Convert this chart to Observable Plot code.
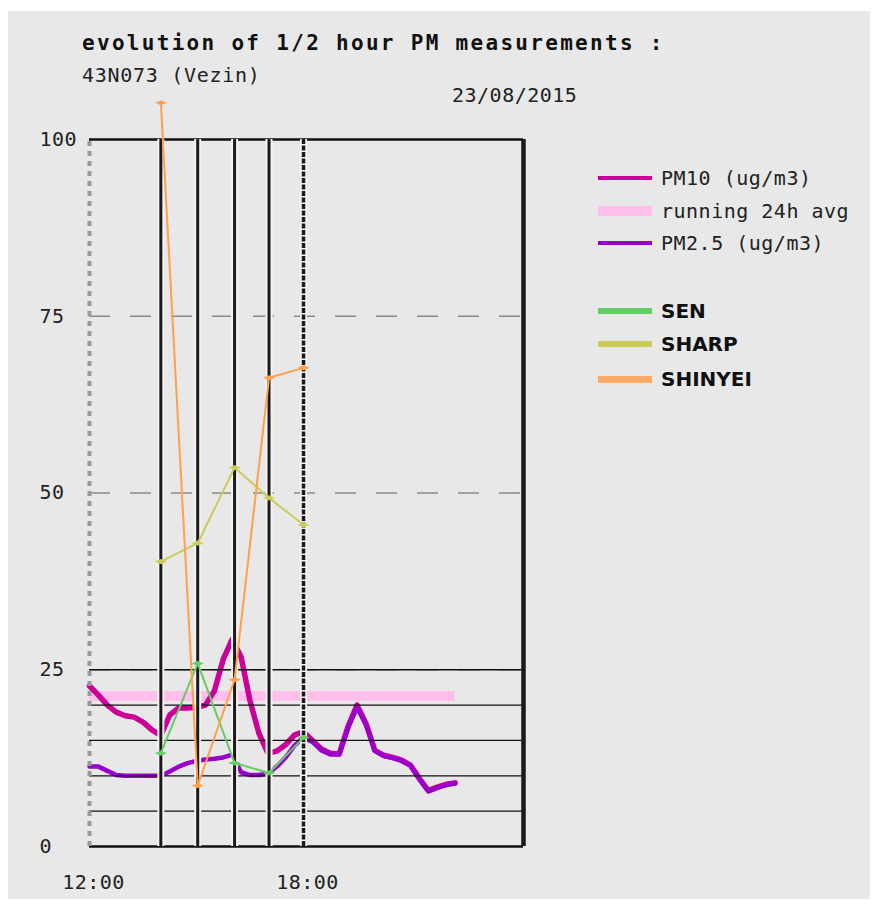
<!DOCTYPE html>
<html>
<head>
<meta charset="utf-8">
<script src="https://cdn.jsdelivr.net/npm/d3@7"></script>
<script src="https://cdn.jsdelivr.net/npm/@observablehq/plot@0.6"></script>
<style>
html,body{margin:0;padding:0;background:#fff;}
#wrap{position:relative;width:872px;height:909px;overflow:hidden;}
#panel{position:absolute;left:8px;top:11px;width:862px;height:888px;background:#e8e8e8;}
.t{position:absolute;white-space:nowrap;font-family:"DejaVu Sans Mono",monospace;color:#222;line-height:1;}
#title{left:82px;top:33px;font-size:21px;font-weight:bold;letter-spacing:2.3px;color:#111;}
#sub{left:82px;top:65px;font-size:20px;letter-spacing:0.7px;}
#date{left:452px;top:85px;font-size:20px;letter-spacing:0.5px;}
#chart{position:absolute;left:0;top:0;}
.leg{position:absolute;left:598px;height:20px;display:flex;align-items:center;white-space:nowrap;}
.sw{display:inline-block;width:54px;margin-right:9px;}
.lt{font-family:"DejaVu Sans Mono",monospace;font-size:20px;letter-spacing:0.5px;color:#222;}
.ls{font-family:"DejaVu Sans",sans-serif;font-size:20px;font-weight:bold;color:#111;}
</style>
</head>
<body>
<div id="wrap">
  <div id="panel"></div>
  <div class="t" id="title"></div>
  <div class="t" id="sub"></div>
  <div class="t" id="date"></div>
  <div id="chart"></div>
  <div id="legend"></div>
</div>
<script>
// ---- texts ----
const titleText = "evolution of 1/2 hour PM measurements :";
const stationText = "43N073 (Vezin)";
const dateText = "23/08/2015";

// ---- axis ticks ----
const yTicks = [0, 25, 50, 75, 100];
const xTicks = ["12:00", "18:00"];
const xDomainEnd = "24:10";
const dashedLevels = [25, 50, 75];
const thinLevels = [5, 10, 15, 20, 25];
const frameLevels = [0, 100];

// ---- quarter-hour PM series ----
const times = ["12:00","12:15","12:30","12:45","13:00","13:15","13:30","13:45",
  "14:00","14:15","14:30","14:45","15:00","15:15","15:30","15:45",
  "16:00","16:15","16:30","16:45","17:00","17:15","17:30","17:45",
  "18:00","18:15","18:30","18:45","19:00","19:15","19:30","19:45",
  "20:00","20:15","20:30","20:45","21:00","21:15","21:30","21:45",
  "22:00","22:15"];
const pm10 = [22.7,21.4,20.0,19.0,18.5,18.3,17.6,16.5,
  15.7,18.6,19.6,19.6,19.7,20.0,22.0,26.5,
  29.3,26.8,20.6,16.0,13.2,13.5,14.4,15.8,
  16.2,15.0,13.8,13.2,13.1,17.0,20.0,17.4,
  13.6,12.9,12.6,12.2,11.5,9.6,7.9,8.4,
  8.8,9.0];
const pm25 = [11.3,11.3,10.7,10.1,10.0,10.0,10.0,10.0,
  10.0,10.6,11.3,11.8,12.1,12.3,12.4,12.6,
  13.0,10.5,10.1,10.1,10.3,11.3,12.6,14.3,
  15.4,14.8,13.6,13.0,13.0,16.8,19.7,17.2,
  13.5,12.8,12.5,12.1,11.4,9.5,7.8,8.3,
  8.7,8.9];
const avg24h = 21.3;
const avgSpan = ["12:00", "22:15"];

// ---- hourly sensor readings ----
const sensorTimes = ["14:00","15:02","16:04","17:02","18:00"];
const sen = [13.2, 25.9, 11.8, 10.4, 15.4];
const sharp = [40.3, 42.9, 53.6, 49.3, 45.5];
const shinyei = [105.2, 8.6, 23.6, 66.3, 67.7];

// ---- legend ----
const legendLabels = ["PM10 (ug/m3)", "running 24h avg", "PM2.5 (ug/m3)", "SEN", "SHARP", "SHINYEI"];
const legendColors = ["#cc0099", "#ffbfea", "#9900cc", "#66cc66", "#cccc5a", "#ffaa66"];

// ---------------------------------------------------------------
const hour = s => { const [h, m] = s.split(":").map(Number); return h + m / 60; };
document.getElementById("title").textContent = titleText;
document.getElementById("sub").textContent = stationText;
document.getElementById("date").textContent = dateText;

const pmData = times.map((t, i) => ({t: hour(t), pm10: pm10[i], pm25: pm25[i]}));
const sensorData = sensorTimes.map((t, i) => ({t: hour(t), sen: sen[i], sharp: sharp[i], shinyei: shinyei[i]}));
const sensorHours = sensorTimes.map(hour);
const innerSensorHours = sensorHours.filter(h => h !== 18);
const avgData = [{y: avg24h, x1: hour(avgSpan[0]), x2: hour(avgSpan[1])}];
const xTickHours = xTicks.map(hour);

const flatDiamond = {
  draw(ctx) {
    ctx.moveTo(-6, 0); ctx.lineTo(0, -2.6); ctx.lineTo(6, 0); ctx.lineTo(0, 2.6); ctx.closePath();
  }
};
const sensorMarks = (key, color) => [
  Plot.line(sensorData, {x: "t", y: key, stroke: color, strokeWidth: 2}),
  Plot.dot(sensorData, {x: "t", y: key, symbol: flatDiamond, fill: color, stroke: "none", r: 4})
];

const chart = Plot.plot({
  width: 872,
  height: 909,
  marginLeft: 89,
  marginRight: 349,
  marginTop: 139,
  marginBottom: 63,
  x: {domain: [12, hour(xDomainEnd)]},
  y: {domain: [0, 100]},
  style: {background: "transparent", overflow: "visible", fontFamily: "DejaVu Sans Mono, monospace", fontSize: "20px", letterSpacing: "0.5px", color: "#222"},
  marks: [
    Plot.ruleY(avgData, {y: "y", x1: "x1", x2: "x2", stroke: legendColors[1], strokeWidth: 10}),
    Plot.line(pmData, {x: "t", y: "pm10", stroke: legendColors[0], strokeWidth: 5.5, strokeLinejoin: "round"}),
    Plot.line(pmData, {x: "t", y: "pm25", stroke: legendColors[2], strokeWidth: 4.5, strokeLinejoin: "round"}),
    Plot.ruleY(dashedLevels, {stroke: "#8a8a8a", strokeWidth: 1.6, strokeDasharray: "21,20"}),
    Plot.ruleY(thinLevels, {stroke: "#111", strokeWidth: 1.3}),
    Plot.ruleY(frameLevels, {stroke: "#111", strokeWidth: 2.4}),
    Plot.ruleX(sensorHours, {y1: 0, y2: 100, stroke: "#f3f3f3", strokeWidth: 7}),
    Plot.ruleX(innerSensorHours, {y1: 0, y2: 100, stroke: "#1a1a1a", strokeWidth: 3}),
    Plot.ruleX([18], {y1: 0, y2: 100, stroke: "#1a1a1a", strokeWidth: 3.5, strokeDasharray: "5,1.5"}),
    Plot.ruleX([12], {y1: 0, y2: 100, stroke: "#9a9a9a", strokeWidth: 4, strokeDasharray: "5,5"}),
    Plot.ruleX([hour(xDomainEnd)], {y1: 0, y2: 100, stroke: "#1a1a1a", strokeWidth: 4.5}),
    ...sensorMarks("sen", legendColors[3]),
    ...sensorMarks("sharp", legendColors[4]),
    ...sensorMarks("shinyei", "#ffa04d"),
    Plot.axisY({ticks: yTicks, tickSize: 0, tickPadding: 0, dx: -50, textAnchor: "start", label: null}),
    Plot.axisX({ticks: xTickHours, tickFormat: d => xTicks[xTickHours.indexOf(d)], tickSize: 0, tickPadding: 28, dx: 4, label: null})
  ]
});
document.getElementById("chart").appendChild(chart);

// legend
const legendTops = [168, 201, 233, 301, 334, 369];
const legendHeights = [4, 10, 4.5, 6, 6, 7];
const legend = document.getElementById("legend");
legendLabels.forEach((lab, i) => {
  const row = document.createElement("div");
  row.className = "leg";
  row.style.top = legendTops[i] + "px";
  const sw = document.createElement("span");
  sw.className = "sw";
  sw.style.background = legendColors[i];
  sw.style.height = legendHeights[i] + "px";
  const tx = document.createElement("span");
  tx.className = i < 3 ? "lt" : "ls";
  tx.textContent = lab;
  row.appendChild(sw);
  row.appendChild(tx);
  legend.appendChild(row);
});
</script>
</body>
</html>
